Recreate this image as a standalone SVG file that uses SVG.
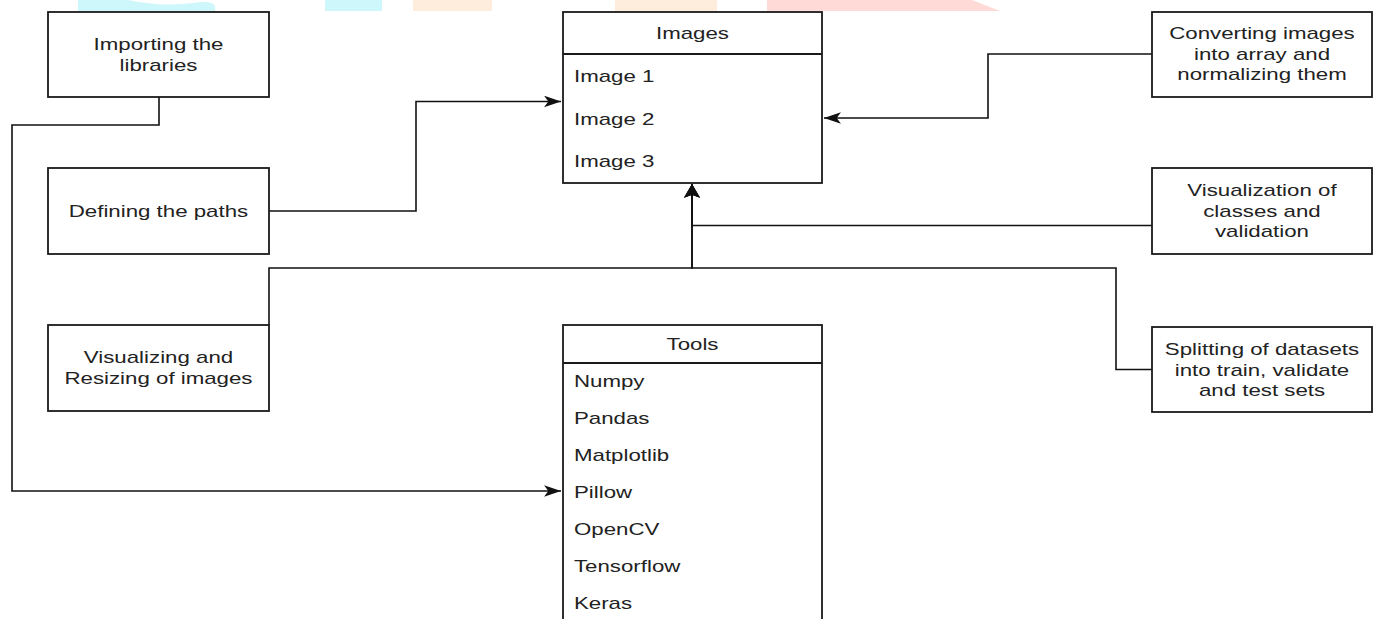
<svg xmlns="http://www.w3.org/2000/svg" width="1376" height="619" viewBox="0 0 1376 619">
  <style>
    .box { fill: #ffffff; stroke: #1a1a1a; stroke-width: 1.8; }
    .sep { stroke: #1a1a1a; stroke-width: 1.8; fill: none; }
    .edge { fill: none; stroke: #111111; stroke-width: 1.6; }
    text { font-family: "Liberation Sans", Arial, sans-serif; font-size: 17px; fill: #222222; }
    /* labels are drawn slightly wide, stretched horizontally about their anchor */
    .c { text-anchor: middle; transform-box: fill-box; transform-origin: center; transform: scaleX(1.31); }
    .l { text-anchor: start; transform-box: fill-box; transform-origin: left center; transform: scaleX(1.31); }
  </style>
  <defs>
    <marker id="arrow-h" markerUnits="userSpaceOnUse" markerWidth="18" markerHeight="12" viewBox="0 0 17 11" refX="16" refY="5.5" orient="auto">
      <path d="M0,0 L16,5.5 L0,11 L4,5.5 Z" fill="#111111"/>
    </marker>
    <marker id="arrow-v" markerUnits="userSpaceOnUse" markerWidth="14" markerHeight="16" viewBox="0 0 13 15" refX="13" refY="7.5" orient="auto">
      <path d="M0,0 L13,7.5 L0,15 L3,7.5 Z" fill="#111111"/>
    </marker>
  </defs>

  <rect width="1376" height="619" fill="#ffffff"/>

  <!-- coloured banner strip along the top edge -->
  <g id="banner">
    <path d="M78,0 H128 Q160,7 194,3 Q212,0 215,6 V11 H78 Z" fill="#cdf7fb"/>
    <rect x="325" y="0" width="57" height="11" fill="#cdf7fb"/>
    <rect x="413" y="0" width="79" height="11" fill="#feecdc"/>
    <rect x="615" y="0" width="102" height="11" fill="#feecdc"/>
    <path d="M767,0 H972 L1000,11 H767 Z" fill="#ffdad6"/>
  </g>

  <g id="connectors">
    <path class="edge" d="M159,97 V125 H12 V491 H561" marker-end="url(#arrow-h)"/>
    <path class="edge" d="M269,211 H416 V101.5 H561" marker-end="url(#arrow-h)"/>
    <path class="edge" d="M1152,54 H988 V118 H824" marker-end="url(#arrow-h)"/>
    <path class="edge" d="M269,325 V268 H692 V184" marker-end="url(#arrow-v)"/>
    <path class="edge" d="M1152,369.5 H1116 V268 H692 V184" marker-end="url(#arrow-v)"/>
    <path class="edge" d="M1152,225.5 H692 V184" marker-end="url(#arrow-v)"/>
  </g>

  <g id="importing">
    <rect class="box" x="48" y="12" width="221" height="85"/>
    <text class="c" x="158.5" y="50">Importing the</text>
    <text class="c" x="158.5" y="71">libraries</text>
  </g>

  <g id="defining">
    <rect class="box" x="48" y="168" width="221" height="86"/>
    <text class="c" x="158.5" y="217">Defining the paths</text>
  </g>

  <g id="visualizing">
    <rect class="box" x="48" y="325" width="221" height="86"/>
    <text class="c" x="158.5" y="363.5">Visualizing and</text>
    <text class="c" x="158.5" y="384">Resizing of images</text>
  </g>

  <g id="images">
    <rect class="box" x="563" y="12" width="259" height="171"/>
    <line class="sep" x1="563" y1="54" x2="822" y2="54"/>
    <text class="c" x="692.5" y="39.3">Images</text>
    <text class="l" x="574" y="82.5">Image 1</text>
    <text class="l" x="574" y="125">Image 2</text>
    <text class="l" x="574" y="167.5">Image 3</text>
  </g>

  <g id="tools">
    <rect class="box" x="563" y="325" width="259" height="320"/>
    <line class="sep" x1="563" y1="363" x2="822" y2="363"/>
    <text class="c" x="692.5" y="350">Tools</text>
    <text class="l" x="574" y="387">Numpy</text>
    <text class="l" x="574" y="424">Pandas</text>
    <text class="l" x="574" y="461.5">Matplotlib</text>
    <text class="l" x="574" y="498">Pillow</text>
    <text class="l" x="574" y="535">OpenCV</text>
    <text class="l" x="574" y="572">Tensorflow</text>
    <text class="l" x="574" y="609">Keras</text>
  </g>

  <g id="converting">
    <rect class="box" x="1152" y="12" width="220" height="85"/>
    <text class="c" x="1262" y="39.5">Converting images</text>
    <text class="c" x="1262" y="60">into array and</text>
    <text class="c" x="1262" y="80.5">normalizing them</text>
  </g>

  <g id="visualization">
    <rect class="box" x="1152" y="168" width="220" height="86"/>
    <text class="c" x="1262" y="196.5">Visualization of</text>
    <text class="c" x="1262" y="217">classes and</text>
    <text class="c" x="1262" y="237.5">validation</text>
  </g>

  <g id="splitting">
    <rect class="box" x="1152" y="327" width="220" height="85"/>
    <text class="c" x="1262" y="355.5">Splitting of datasets</text>
    <text class="c" x="1262" y="376">into train, validate</text>
    <text class="c" x="1262" y="396.5">and test sets</text>
  </g>
</svg>
